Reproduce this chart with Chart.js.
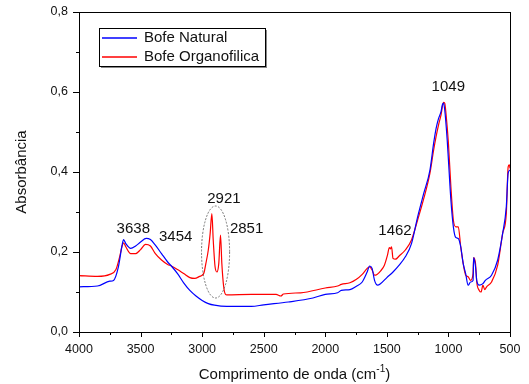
<!DOCTYPE html>
<html>
<head>
<meta charset="utf-8">
<script src="https://cdn.jsdelivr.net/npm/chart.js@4.4.0/dist/chart.umd.min.js"></script>
<style>
  html, body { margin: 0; padding: 0; background: #fff; }
  #wrap { width: 529px; height: 384px; }
</style>
</head>
<body>
<div id="wrap"><canvas id="ftir"></canvas></div>
<script>
// wavenumbers (cm-1) and absorbance
const naturalWn = [4000, 3850, 3750, 3720, 3680, 3650, 3638, 3620, 3580, 3540, 3500, 3454, 3420, 3380, 3330, 3280, 3250, 3200, 3150, 3100, 3050, 3000, 2950, 2900, 2800, 2600, 2500, 2300, 2100, 2000, 1900, 1870, 1800, 1750, 1700, 1660, 1640, 1620, 1600, 1575, 1550, 1500, 1450, 1400, 1350, 1300, 1250, 1200, 1150, 1120, 1100, 1080, 1060, 1049, 1040, 1030, 1010, 1000, 980, 960, 940, 920, 900, 880, 860, 840, 820, 800, 795, 780, 770, 750, 720, 700, 650, 600, 560, 530, 515, 500];
const naturalAbs = [0.113, 0.115, 0.127, 0.129, 0.163, 0.217, 0.231, 0.221, 0.209, 0.215, 0.225, 0.234, 0.231, 0.217, 0.196, 0.175, 0.165, 0.146, 0.123, 0.104, 0.090, 0.079, 0.071, 0.067, 0.064, 0.064, 0.068, 0.075, 0.085, 0.094, 0.098, 0.104, 0.106, 0.114, 0.125, 0.150, 0.165, 0.159, 0.129, 0.117, 0.121, 0.136, 0.150, 0.167, 0.188, 0.221, 0.288, 0.347, 0.405, 0.472, 0.509, 0.534, 0.551, 0.568, 0.572, 0.555, 0.480, 0.430, 0.330, 0.263, 0.236, 0.234, 0.213, 0.171, 0.146, 0.117, 0.125, 0.129, 0.186, 0.163, 0.129, 0.117, 0.121, 0.129, 0.142, 0.180, 0.246, 0.313, 0.397, 0.405];

const organoWn = [4000, 3850, 3750, 3700, 3670, 3650, 3638, 3620, 3580, 3540, 3500, 3460, 3420, 3380, 3330, 3280, 3250, 3200, 3150, 3100, 3060, 3020, 3000, 2985, 2970, 2950, 2935, 2921, 2910, 2895, 2880, 2865, 2851, 2840, 2825, 2810, 2800, 2600, 2400, 2360, 2340, 2200, 2000, 1900, 1870, 1800, 1750, 1700, 1660, 1640, 1620, 1600, 1580, 1550, 1520, 1495, 1480, 1470, 1462, 1450, 1430, 1400, 1350, 1300, 1250, 1200, 1150, 1120, 1100, 1080, 1060, 1040, 1030, 1020, 1000, 980, 960, 940, 920, 900, 880, 860, 840, 820, 800, 795, 780, 770, 750, 735, 720, 705, 690, 650, 600, 560, 530, 515, 505, 500];
const organoAbs = [0.141, 0.139, 0.144, 0.156, 0.188, 0.215, 0.223, 0.213, 0.196, 0.196, 0.206, 0.219, 0.215, 0.196, 0.180, 0.169, 0.165, 0.156, 0.146, 0.136, 0.134, 0.139, 0.142, 0.148, 0.171, 0.205, 0.246, 0.296, 0.230, 0.163, 0.150, 0.171, 0.242, 0.171, 0.113, 0.094, 0.093, 0.094, 0.094, 0.090, 0.095, 0.098, 0.110, 0.115, 0.119, 0.123, 0.131, 0.144, 0.159, 0.163, 0.155, 0.142, 0.144, 0.153, 0.167, 0.192, 0.211, 0.208, 0.213, 0.184, 0.182, 0.190, 0.205, 0.230, 0.280, 0.334, 0.397, 0.455, 0.489, 0.518, 0.543, 0.574, 0.572, 0.547, 0.472, 0.363, 0.280, 0.263, 0.263, 0.213, 0.171, 0.142, 0.138, 0.129, 0.146, 0.186, 0.171, 0.125, 0.104, 0.100, 0.117, 0.106, 0.113, 0.125, 0.167, 0.246, 0.296, 0.413, 0.418, 0.409];

const seriesNames = ["Bofe Natural", "Bofe Organofilica"];
const peakLabels = ["3638", "3454", "2921", "2851", "1462", "1049"];
const peakLabelWn = [3559, 3215, 2823, 2639, 1434, 1001];
const peakLabelAbs = [0.257, 0.238, 0.334, 0.257, 0.253, 0.614];

const FONT = "'Liberation Sans', Arial, sans-serif";
const toPoints = (xs, ys) => xs.map((x, i) => ({ x: x, y: ys[i] }));

// frame, minor ticks, legend box, peak labels, dashed ellipse, axis titles
const decorations = {
    id: "decorations",
    afterDraw(chart) {
        const { ctx, chartArea: a, scales: { x, y } } = chart;
        ctx.save();

        // frame
        ctx.strokeStyle = "#000";
        ctx.lineWidth = 1;
        ctx.strokeRect(a.left + 0.5, a.top + 0.5, a.right - a.left, a.bottom - a.top);

        // ticks, outward
        ctx.beginPath();
        for (let v = 500; v <= 4000; v += 250) {
            const px = Math.round(x.getPixelForValue(v)) + 0.5;
            const len = v % 500 === 0 ? 5 : 3;
            ctx.moveTo(px, a.bottom);
            ctx.lineTo(px, a.bottom + len);
        }
        for (let i = 0; i <= 8; i++) {
            const py = Math.round(y.getPixelForValue(i / 10)) + 0.5;
            const len = i % 2 === 0 ? 6 : 3;
            ctx.moveTo(a.left, py);
            ctx.lineTo(a.left - len, py);
        }
        ctx.stroke();

        // dashed ellipse round the CH2 bands
        const cx = x.getPixelForValue(2891), cy = y.getPixelForValue(0.2);
        const rx = Math.abs(x.getPixelForValue(2891 - 114) - cx);
        const ry = Math.abs(y.getPixelForValue(0.315) - cy);
        ctx.beginPath();
        ctx.setLineDash([2, 1.5]);
        ctx.strokeStyle = "#555";
        ctx.lineWidth = 0.8;
        ctx.ellipse(cx, cy, rx, ry, 0, 0, Math.PI * 2);
        ctx.stroke();
        ctx.setLineDash([]);

        // peak labels
        ctx.fillStyle = "#111";
        ctx.font = "15px " + FONT;
        ctx.textAlign = "center";
        ctx.textBaseline = "middle";
        peakLabels.forEach((t, i) => {
            ctx.fillText(t, x.getPixelForValue(peakLabelWn[i]), y.getPixelForValue(peakLabelAbs[i]));
        });

        // legend
        const lx = 99, ly = 28, lw = 166, lh = 38;
        ctx.fillStyle = "#888";
        ctx.fillRect(lx + 2, ly + 2, lw, lh);
        ctx.fillStyle = "#fff";
        ctx.fillRect(lx, ly, lw, lh);
        ctx.strokeStyle = "#000";
        ctx.lineWidth = 1;
        ctx.strokeRect(lx + 0.5, ly + 0.5, lw, lh);
        chart.data.datasets.forEach((ds, i) => {
            const ry2 = ly + 10 + i * 19;
            ctx.strokeStyle = ds.borderColor;
            ctx.lineWidth = 1.3;
            ctx.beginPath();
            ctx.moveTo(lx + 3, ry2);
            ctx.lineTo(lx + 38, ry2);
            ctx.stroke();
            ctx.fillStyle = "#111";
            ctx.textAlign = "left";
            ctx.fillText(ds.label, lx + 45, ry2);
        });

        // x title with superscript
        ctx.fillStyle = "#111";
        const t1 = "Comprimento de onda (cm", t2 = "-1", t3 = ")";
        ctx.font = "15px " + FONT;
        const w1 = ctx.measureText(t1).width, w3 = ctx.measureText(t3).width;
        ctx.font = "10px " + FONT;
        const w2 = ctx.measureText(t2).width;
        const sx = (a.left + a.right) / 2 - (w1 + w2 + w3) / 2;
        const ty = 375;
        ctx.textAlign = "left";
        ctx.font = "15px " + FONT;
        ctx.fillText(t1, sx, ty);
        ctx.font = "10px " + FONT;
        ctx.fillText(t2, sx + w1, ty - 6);
        ctx.font = "15px " + FONT;
        ctx.fillText(t3, sx + w1 + w2, ty);

        // y title
        ctx.translate(22, (a.top + a.bottom) / 2);
        ctx.rotate(-Math.PI / 2);
        ctx.textAlign = "center";
        ctx.fillText("Absorbância", 0, 0);

        ctx.restore();
    },
};

const ctx = document.getElementById("ftir").getContext("2d");
new Chart(ctx, {
    type: "line",
    data: {
        datasets: [
            {
                label: seriesNames[0],
                data: toPoints(naturalWn, naturalAbs),
                borderColor: "#0000ff",
                borderWidth: 1.2,
                pointRadius: 0,
                cubicInterpolationMode: "monotone",
            },
            {
                label: seriesNames[1],
                data: toPoints(organoWn, organoAbs),
                borderColor: "#ff0000",
                borderWidth: 1.2,
                pointRadius: 0,
                cubicInterpolationMode: "monotone",
            },
        ],
    },
    options: {
        responsive: true,
        maintainAspectRatio: false,
        animation: false,
        parsing: false,
        layout: { padding: { top: 12, right: 19, left: 0, bottom: 0 } },
        plugins: {
            legend: { display: false },
            tooltip: { enabled: false },
        },
        scales: {
            x: {
                type: "linear",
                reverse: true,
                min: 500,
                max: 4000,
                afterFit: (s) => {
                    s.height = 52;
                    s.paddingLeft = 0;
                    s.paddingRight = 0;
                },
                grid: { display: false, drawTicks: false },
                border: { display: false },
                ticks: {
                    stepSize: 500,
                    padding: 10,
                    color: "#111",
                    font: { family: FONT, size: 12.5 },
                    maxRotation: 0,
                    callback: (v) => String(v),
                },
            },
            y: {
                min: 0,
                max: 0.8,
                afterFit: (s) => {
                    s.width = 79;
                    s.paddingTop = 0;
                    s.paddingBottom = 0;
                },
                grid: { display: false, drawTicks: false },
                border: { display: false },
                ticks: {
                    stepSize: 0.2,
                    padding: 11,
                    color: "#111",
                    font: { family: FONT, size: 12.5 },
                    callback: (v) => v.toFixed(1).replace(".", ","),
                },
            },
        },
    },
    plugins: [decorations],
});
</script>
</body>
</html>
